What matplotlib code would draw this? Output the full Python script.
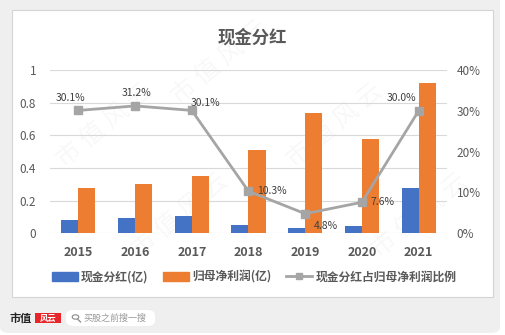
import matplotlib
matplotlib.use("Agg")
import matplotlib.pyplot as plt
from matplotlib.patches import FancyBboxPatch, Rectangle, Circle
from matplotlib.lines import Line2D
import numpy as np

plt.rcParams['font.family'] = ['Noto Sans CJK SC', 'DejaVu Sans']

# ---- data ----
years = ['2015', '2016', '2017', '2018', '2019', '2020', '2021']
dividend = [0.084, 0.094, 0.106, 0.053, 0.035, 0.044, 0.276]      # 现金分红(亿)
net_profit = [0.279, 0.300, 0.352, 0.511, 0.734, 0.575, 0.921]    # 归母净利润(亿)
payout_pct = [30.1, 31.2, 30.1, 10.3, 4.8, 7.6, 30.0]              # 占比(%)
left_ticks = [0, 0.2, 0.4, 0.6, 0.8, 1]
left_tick_labels = ['0', '0.2', '0.4', '0.6', '0.8', '1']
right_ticks = [0, 10, 20, 30, 40]
right_tick_labels = ['0%', '10%', '20%', '30%', '40%']

BLUE = '#4472C4'
ORANGE = '#ED7D31'
GRAY = '#A5A5A5'
TXT = '#595959'

W, H = 505, 335
fig = plt.figure(figsize=(W / 100, H / 100), dpi=100, facecolor='white')


def fx(px):
    return px / W


def fy(py):
    return 1 - py / H


# page background card and chart frame (behind the axes)
fig.patches.append(FancyBboxPatch((fx(0), fy(333)), fx(500), fy(0) - fy(333) + 0.05,
                                  boxstyle='round,pad=0,rounding_size=0.018',
                                  transform=fig.transFigure, facecolor='#efefef',
                                  edgecolor='none', zorder=-3))
fig.patches.append(Rectangle((fx(12), fy(297)), fx(493) - fx(12), fy(10) - fy(297),
                             transform=fig.transFigure, facecolor='white',
                             edgecolor='#d4d4d4', linewidth=0.8, zorder=-2))

# faint watermark
for (wx, wy) in [(220, 62), (105, 125), (335, 125), (180, 215), (420, 215)]:
    fig.text(fx(wx), fy(wy), '市 值 风 云', ha='center', va='center', fontsize=18,
             rotation=40, color='#000000', alpha=0.03, zorder=-1)

# main axes
ax = fig.add_axes([fx(50), fy(233.3), fx(447) - fx(50), fy(70) - fy(233.3)])
ax.set_facecolor('none')
x = np.arange(len(years))
bw = 0.3
ax.bar(x - bw / 2, dividend, width=bw, color=BLUE, zorder=3, label='现金分红(亿)')
ax.bar(x + bw / 2, net_profit, width=bw, color=ORANGE, zorder=3, label='归母净利润(亿)')
ax.set_xlim(-0.5, len(years) - 0.5)
ax.set_ylim(0, 1)
ax.set_yticks(left_ticks)
ax.set_yticklabels(left_tick_labels)
ax.set_xticks(x)
ax.set_xticklabels(years, fontweight='bold')
ax.grid(axis='y', color='#d9d9d9', linewidth=0.8, zorder=0)
for s in ax.spines.values():
    s.set_visible(False)
ax.tick_params(axis='both', length=0, colors=TXT, labelsize=8.5)
ax.tick_params(axis='y', pad=10)
ax.tick_params(axis='x', pad=9, labelsize=9)

ax2 = ax.twinx()
ax2.set_ylim(0, 40)
ax2.set_yticks(right_ticks)
ax2.set_yticklabels(right_tick_labels)
for s in ax2.spines.values():
    s.set_visible(False)
ax2.tick_params(axis='y', length=0, colors=TXT, labelsize=8.5, pad=7)
ax2.plot(x, payout_pct, color=GRAY, linewidth=2, marker='s', markersize=5.5,
         zorder=4, label='现金分红占归母净利润比例')

label_offsets = [(-6, 9), (1, 9), (10, 5), (17, 0), (15, -9), (15, 0), (-12, 9)]
for xi, v, off in zip(x, payout_pct, label_offsets):
    ax2.annotate(f'{v:.1f}%', (xi, v), xytext=off, textcoords='offset points',
                 ha='center', va='center', fontsize=7.5, color='#404040', zorder=5)

# title
fig.text(fx(252), fy(38), '现金分红', ha='center', va='center', fontsize=12.5,
         fontweight='bold', color=TXT)

# legend
handles = [Rectangle((0, 0), 1, 1, color=BLUE), Rectangle((0, 0), 1, 1, color=ORANGE),
           Line2D([], [], color=GRAY, linewidth=2, marker='s', markersize=5)]
labels = ['现金分红(亿)', '归母净利润(亿)', '现金分红占归母净利润比例']
leg = fig.legend(handles, labels, loc='center', bbox_to_anchor=(fx(254), fy(277)),
                 ncol=3, frameon=False, handlelength=2.2,
                 handleheight=0.7, handletextpad=0.3, columnspacing=1.2,
                 prop={'weight': 'bold', 'size': 8.5})
for t in leg.get_texts():
    t.set_color(TXT)

# footer brand
fig.text(fx(10), fy(318), '市值', ha='left', va='center', fontsize=8,
         fontweight='bold', color='#222222')
fig.patches.append(Rectangle((fx(35), fy(323)), fx(26), fy(313) - fy(323),
                             transform=fig.transFigure, facecolor='#e8262a',
                             edgecolor='none', zorder=3))
fig.text(fx(48), fy(318), '风云', ha='center', va='center', fontsize=6,
         fontweight='bold', color='white', style='italic', zorder=4)
fig.patches.append(FancyBboxPatch((fx(66), fy(326)), fx(89), fy(310) - fy(326),
                                  boxstyle='round,pad=0,rounding_size=0.016',
                                  transform=fig.transFigure, facecolor='white',
                                  edgecolor='none', zorder=3))
fig.patches.append(Circle((fx(75.5), fy(317)), 0.0065, transform=fig.transFigure,
                          facecolor='none', edgecolor='#888888', linewidth=0.8, zorder=4))
fig.lines.append(Line2D([fx(78), fx(80.5)], [fy(319.5), fy(322)], transform=fig.transFigure,
                        color='#888888', linewidth=0.9, zorder=4))
fig.text(fx(84), fy(318), '买股之前搜一搜', ha='left', va='center', fontsize=6.5,
         color='#9a9a9a', zorder=4)

fig.savefig('out.png', dpi=100, facecolor='white')
